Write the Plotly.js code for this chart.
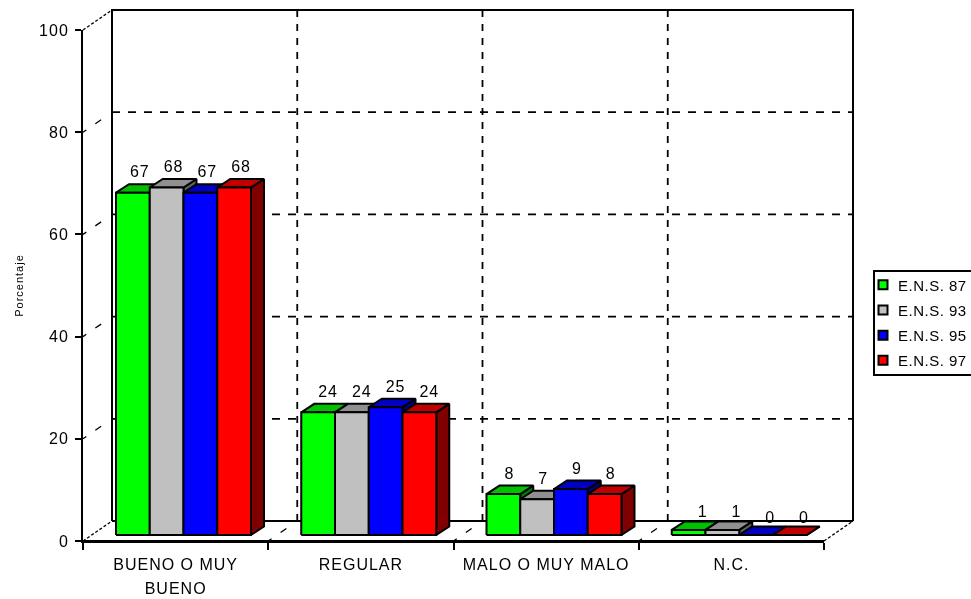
<!DOCTYPE html>
<html>
<head>
<meta charset="utf-8">
<script src="https://cdn.plot.ly/plotly-3.0.1.min.js"></script>
<style>
html,body{margin:0;padding:0;background:#fff;overflow:hidden}
#chart{width:971px;height:599px;filter:blur(0.55px)}
#chart text{letter-spacing:1px}
#chart .xtick text{letter-spacing:1px}
#chart .legend text{letter-spacing:0.5px}
#chart .ytitle{letter-spacing:1.2px}
#chart .legend .bg{height:104px}
#chart .legend .scrollbox{transform:translateY(-3.5px)}
#chart .legend .legendtext{transform:translateX(-17px)}
#chart .legend .legendpoints{transform:translateX(-12px)}
</style>
</head>
<body>
<div id="chart"></div>
<script>
const categories = ["BUENO O MUY<br>BUENO", "REGULAR", "MALO O MUY MALO", "N.C."];
const seriesNames = ["E.N.S. 87", "E.N.S. 93", "E.N.S. 95", "E.N.S. 97"];
const ens87 = [67, 24, 8, 1];
const ens93 = [68, 24, 7, 1];
const ens95 = [67, 25, 9, 0];
const ens97 = [68, 24, 8, 0];
const frontColors = ["#00FF00", "#C0C0C0", "#0000FF", "#FF0000"];
const topColors = ["#00C000", "#909090", "#0000C0", "#C00000"];
const sideColors = ["#008000", "#606060", "#000080", "#800000"];
const yTicks = [0, 20, 40, 60, 80, 100];

const seriesValues = [ens87, ens93, ens95, ens97];

// pixel geometry of the oblique projection
const CAT = 185.25, UNIT = 5.11, W = 971, H = 599;
const X0 = 83, Y0 = 541;
const pad = 3;
const L = X0 - pad, B = Y0 + pad, R = 855 + pad, T = 11 - pad;
const backX = 29 / CAT, backY = 20 / UNIT;
const gap = 25 / CAT, barW = 33.75 / CAT;
const frontX = 8 / CAT, frontY = 6 / UNIT;
const bodyX = 13 / CAT, bodyY = 8.5 / UNIT;
const labelNudgeX = [1, 4, 0, 8];       // px, by category
const labelNudgeY = [3, 3, 3, 0];       // px, by category

function poly(points) {
  const xs = points.map(p => p[0]).concat([points[0][0], null]);
  const ys = points.map(p => p[1]).concat([points[0][1], null]);
  return [xs, ys];
}
function faces(kind, values, s) {
  const xs = [], ys = [];
  values.forEach((v, i) => {
    const a = i + gap + s * barW + frontX, b = a + barW, z = frontY;
    let pts;
    if (kind === "front") pts = [[a, z], [b, z], [b, v + z], [a, v + z]];
    if (kind === "top") pts = [[a, v + z], [b, v + z], [b + bodyX, v + z + bodyY], [a + bodyX, v + z + bodyY]];
    if (kind === "side") pts = [[b, z], [b + bodyX, z + bodyY], [b + bodyX, v + z + bodyY], [b, v + z]];
    const [px, py] = poly(pts);
    xs.push(...px); ys.push(...py);
  });
  return [xs, ys];
}
function line(xs, ys, width, dash) {
  return {type: "scatter", mode: "lines", x: xs, y: ys, showlegend: false, hoverinfo: "skip",
    line: {color: "#000", width: width, dash: dash || "solid", simplify: false}};
}

const traces = [];
// back wall frame
traces.push(line([backX, backX, 4 + backX, 4 + backX], [backY, 100 + backY, 100 + backY, backY], 2));
traces.push(line([backX, 4 + backX], [backY, backY], 2));
// back wall grid
yTicks.slice(1, -1).forEach(v => traces.push(line([backX, 4 + backX], [v + backY, v + backY], 1.8, "8px,8px")));
[1, 2, 3].forEach(c => traces.push(line([c + backX, c + backX], [backY, 100 + backY], 1.8, "7px,7px")));
// depth lines of left wall and floor
yTicks.forEach(v => traces.push(line([0, backX], [v, v + backY], 1.3, v === 0 || v === 100 ? "3px,2px" : "4px,11px,7px,30px")));
[1, 2, 3].forEach(c => traces.push(line([c, c + backX], [0, backY], 1.3, "4px,11px,7px,30px")));
traces.push(line([4, 4 + backX], [0, backY], 1.3, "3px,2px"));

// bars, painted left to right
seriesValues.forEach((vals, s) => {
  [["side", sideColors], ["top", topColors], ["front", frontColors]].forEach(([kind, cols]) => {
    const [xs, ys] = faces(kind, vals, s);
    traces.push({type: "scatter", mode: "lines", x: xs, y: ys, fill: "toself", fillcolor: cols[s],
      line: {color: "#000", width: 2}, showlegend: false, hoverinfo: "skip"});
  });
});
// value labels
seriesValues.forEach((vals, s) => {
  traces.push({type: "scatter", mode: "text", cliponaxis: false, showlegend: false, hoverinfo: "skip",
    x: vals.map((v, i) => i + gap + (s + 0.5) * barW + frontX + (6 + labelNudgeX[i]) / CAT),
    y: vals.map((v, i) => v + frontY + bodyY + labelNudgeY[i] / UNIT),
    text: vals.map(String), textposition: "top center",
    textfont: {family: "Liberation Sans", size: 16, color: "#000"}});
});
// legend entries
seriesNames.forEach((n, s) => {
  traces.push({type: "scatter", mode: "markers", x: [null], y: [null], name: n, legendgroup: n,
    marker: {symbol: "square", size: 9, color: frontColors[s], line: {color: "#000", width: 2}}});
});
// draws the visible axes of the front plane
traces.push({type: "scatter", mode: "lines", xaxis: "x2", yaxis: "y2", x: [0, 4], y: [0, 0], showlegend: false,
  hoverinfo: "skip", line: {color: "#000", width: 2}});

const font = {family: "Liberation Sans", size: 16, color: "#000"};
const layout = {
  width: W, height: H, paper_bgcolor: "#fff", plot_bgcolor: "rgba(0,0,0,0)",
  margin: {l: L, r: W - R, t: T, b: H - B, pad: 0, autoexpand: false},
  showlegend: true,
  legend: {x: (873 - L) / (R - L), y: 1 - (270 - T) / (B - T), xanchor: "left", yanchor: "top",
    bgcolor: "#fff", bordercolor: "#000", borderwidth: 2, font: {family: "Liberation Sans", size: 15, color: "#000"},
    tracegroupgap: 2.7, traceorder: "grouped", itemclick: false, itemdoubleclick: false},
  xaxis: {domain: [0, 1], range: [-pad / CAT, (R - X0) / CAT], showgrid: false, zeroline: false, showline: false,
    tickmode: "array", tickvals: categories.map((c, i) => i + 0.5),
    ticktext: categories.map(c => c.split("<br>").map(t => '<span style="font-size:16px">' + t + "</span>").join("<br>")),
    ticks: "outside", ticklen: 3, tickcolor: "rgba(0,0,0,0)", tickfont: Object.assign({}, font, {size: 18.5}), anchor: "y"},
  yaxis: {domain: [0, 1], range: [-pad / UNIT, (Y0 - T) / UNIT], showgrid: false, zeroline: false, showline: false,
    showticklabels: false, ticks: "", anchor: "x"},
  xaxis2: {domain: [(X0 - L) / (R - L), (X0 - L + 4 * CAT) / (R - L)],
    range: [0, 4], showgrid: false, zeroline: false, showline: true, linecolor: "#000", linewidth: 2,
    tickmode: "array", tickvals: [0, 1, 2, 3, 4], ticks: "outside", ticklen: 7, tickwidth: 2, tickcolor: "#000",
    showticklabels: false, anchor: "y2"},
  yaxis2: {domain: [(B - Y0) / (B - T), (B - Y0 + 100 * UNIT) / (B - T)], range: [0, 100],
    showgrid: false, zeroline: false, showline: true, linecolor: "#000", linewidth: 2,
    tickmode: "array", tickvals: yTicks, ticks: "outside", ticklen: 6, tickwidth: 2, tickcolor: "#000",
    ticklabelstandoff: 3, tickfont: font, anchor: "x2",
    title: {text: "Porcentaje", font: {family: "Liberation Sans", size: 11, color: "#000"}, standoff: 16}}
};
Plotly.newPlot("chart", traces, layout, {staticPlot: true, displayModeBar: false});
</script>
</body>
</html>
